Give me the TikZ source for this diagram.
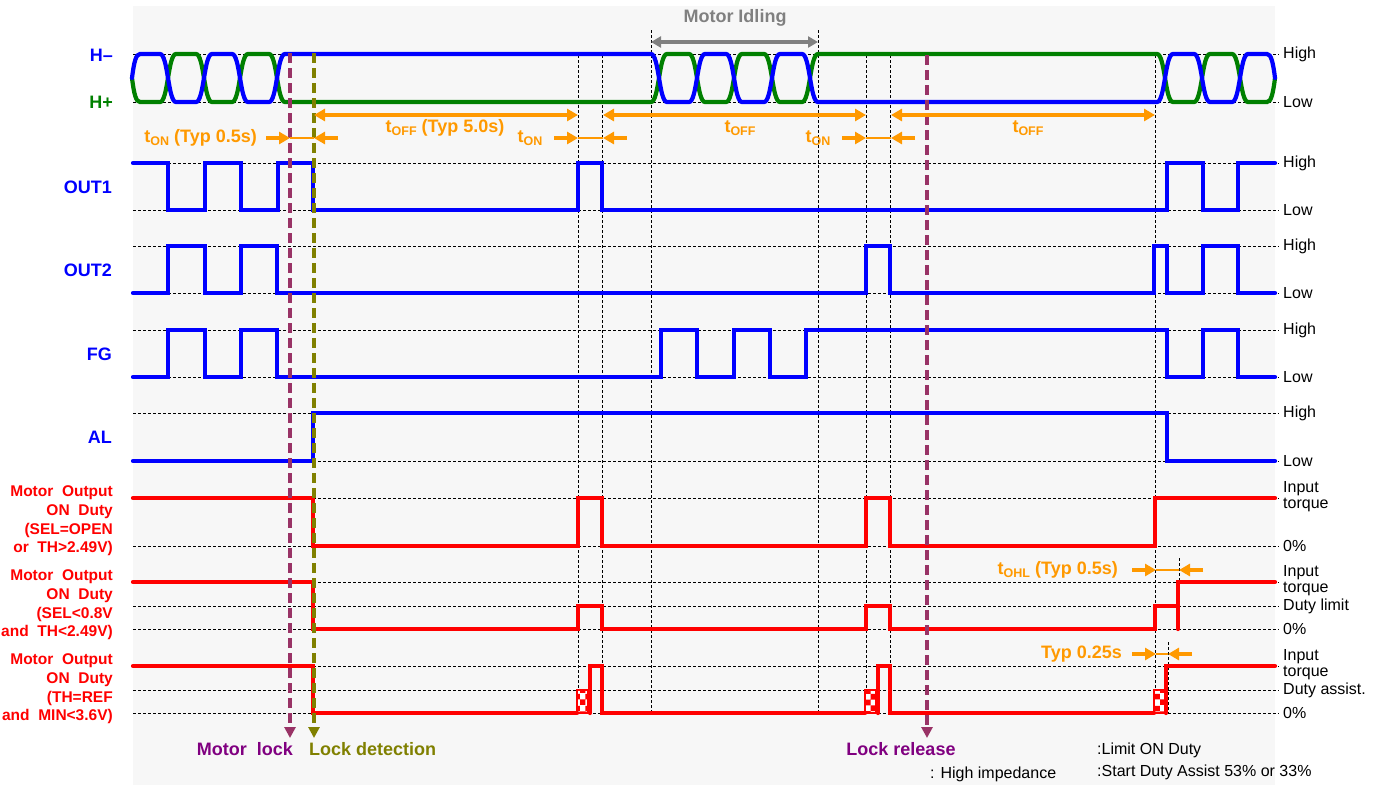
\documentclass[tikz,border=0pt]{standalone}
\usepackage{fontspec}
\setmainfont{Liberation Sans}
\usepackage{tikz}
\usetikzlibrary{arrows.meta,patterns}
\definecolor{sigblue}{HTML}{0000FF}
\definecolor{siggreen}{HTML}{008000}
\definecolor{sigred}{HTML}{FF0000}
\definecolor{tmorange}{HTML}{FF9900}
\definecolor{lockline}{HTML}{993366}
\definecolor{locktext}{HTML}{800080}
\definecolor{detolive}{HTML}{808000}
\definecolor{idlegray}{HTML}{808080}
\definecolor{bggray}{HTML}{F7F7F7}
\newcommand{\tsb}[1]{t\raisebox{-0.35ex}{\fontsize{12.5}{12.5}\selectfont #1}}

\begin{document}
\begin{tikzpicture}[x=1pt, y=-1pt,
  refline/.style={black, line width=1pt, dash pattern=on 3pt off 2pt},
  wave/.style={line width=4.2pt, line cap=round},
  marker/.style={line width=3.5pt, dash pattern=on 10pt off 5pt, -{Triangle[length=11pt,width=11pt]}},
  span/.style={tmorange, line width=4.2pt, {Triangle[length=11pt,width=12pt]}-{Triangle[length=11pt,width=12pt]}},
  pinch/.style={tmorange, line width=4.2pt, -{Triangle[length=11pt,width=12pt]}},
  gapline/.style={tmorange, line width=1.6pt},
  signame/.style={font=\fontsize{18}{20}\selectfont\bfseries, anchor=east, inner sep=0pt},
  dutyname/.style={font=\fontsize{15.5}{18.7}\selectfont\bfseries, text=sigred, align=right, anchor=east, inner sep=0pt},
  level/.style={font=\fontsize{16}{16}\selectfont, anchor=west, align=left, inner sep=0pt},
  tlabel/.style={font=\fontsize{18}{20}\selectfont\bfseries, text=tmorange, inner sep=0pt},
  evlabel/.style={font=\fontsize{18}{20}\selectfont\bfseries, inner sep=0pt},
  note/.style={font=\fontsize{16}{16}\selectfont, anchor=west, inner sep=0pt},
  chk/.style={draw=sigred, line width=2.5pt, preaction={fill=white}, pattern=checkerboard, pattern color=sigred}
]
\useasboundingbox (0,0) rectangle (1378,785);
\fill[bggray] (133,6) rectangle (1275,785);

% reference levels
\foreach \y in {54,102,163,210,246,293,330,377,413,461,498,546,582,606,629,666,690,713}
  \draw[refline] (133,\y) -- (1279,\y);
\foreach \x/\t in {578/55,602/55,651/30,818/30,866/55,890/55,1155/55}
  \draw[refline] (\x,\t) -- (\x,714);
\draw[refline] (1179,558) -- (1179,630);
\draw[refline] (1168,642) -- (1168,714);

% hall signals
\draw[wave, siggreen] (132,78) .. controls (134,94) and (136,102) .. (140,102)
 -- (160,102) .. controls (168,102) and (168,54) .. (176,54)
 -- (196,54) .. controls (204,54) and (204,102) .. (212,102)
 -- (232,102) .. controls (240,102) and (240,54) .. (248,54)
 -- (269,54) .. controls (277,54) and (277,102) .. (285,102)
 -- (651,102) .. controls (659,102) and (659,54) .. (667,54)
 -- (689,54) .. controls (697,54) and (697,102) .. (705,102)
 -- (726,102) .. controls (734,102) and (734,54) .. (742,54)
 -- (764,54) .. controls (772,54) and (772,102) .. (780,102)
 -- (802,102) .. controls (810,102) and (810,54) .. (818,54)
 -- (1157,54) .. controls (1165,54) and (1165,102) .. (1173,102)
 -- (1194,102) .. controls (1202,102) and (1202,54) .. (1210,54)
 -- (1232,54) .. controls (1240,54) and (1240,102) .. (1248,102)
 -- (1267,102) .. controls (1271,102) and (1273,94) .. (1275,78);
\draw[wave, sigblue] (132,78) .. controls (134,62) and (136,54) .. (140,54)
 -- (160,54) .. controls (168,54) and (168,102) .. (176,102)
 -- (196,102) .. controls (204,102) and (204,54) .. (212,54)
 -- (232,54) .. controls (240,54) and (240,102) .. (248,102)
 -- (269,102) .. controls (277,102) and (277,54) .. (285,54)
 -- (651,54) .. controls (659,54) and (659,102) .. (667,102)
 -- (689,102) .. controls (697,102) and (697,54) .. (705,54)
 -- (726,54) .. controls (734,54) and (734,102) .. (742,102)
 -- (764,102) .. controls (772,102) and (772,54) .. (780,54)
 -- (802,54) .. controls (810,54) and (810,102) .. (818,102)
 -- (1157,102) .. controls (1165,102) and (1165,54) .. (1173,54)
 -- (1194,54) .. controls (1202,54) and (1202,102) .. (1210,102)
 -- (1232,102) .. controls (1240,102) and (1240,54) .. (1248,54)
 -- (1267,54) .. controls (1271,54) and (1273,62) .. (1275,78);

% logic outputs
\draw[wave, sigblue] (133,163) -- (168,163) -- (168,210) -- (205,210) -- (205,163) -- (241,163) -- (241,210)
 -- (278,210) -- (278,163) -- (313,163) -- (313,210) -- (578,210) -- (578,163) -- (602,163) -- (602,210)
 -- (1167,210) -- (1167,163) -- (1203,163) -- (1203,210) -- (1238,210) -- (1238,163) -- (1275,163);
\draw[wave, sigblue] (133,293) -- (168,293) -- (168,246) -- (205,246) -- (205,293) -- (241,293) -- (241,246)
 -- (277,246) -- (277,293) -- (866,293) -- (866,246) -- (890,246) -- (890,293) -- (1154,293) -- (1154,246)
 -- (1167,246) -- (1167,293) -- (1203,293) -- (1203,246) -- (1238,246) -- (1238,293) -- (1275,293);
\draw[wave, sigblue] (133,377) -- (168,377) -- (168,330) -- (205,330) -- (205,377) -- (241,377) -- (241,330)
 -- (277,330) -- (277,377) -- (661,377) -- (661,330) -- (697,330) -- (697,377) -- (734,377) -- (734,330)
 -- (770,330) -- (770,377) -- (806,377) -- (806,330) -- (1167,330) -- (1167,377) -- (1203,377) -- (1203,330)
 -- (1238,330) -- (1238,377) -- (1275,377);
\draw[wave, sigblue] (133,461) -- (313,461) -- (313,413) -- (1167,413) -- (1167,461) -- (1275,461);

% motor output duty
\draw[wave, sigred] (133,498) -- (313,498) -- (313,546) -- (578,546) -- (578,498) -- (602,498) -- (602,546)
 -- (866,546) -- (866,498) -- (890,498) -- (890,546) -- (1155,546) -- (1155,498) -- (1275,498);
\draw[wave, sigred] (133,582) -- (313,582) -- (313,629) -- (578,629) -- (578,606) -- (602,606) -- (602,629)
 -- (866,629) -- (866,606) -- (890,606) -- (890,629) -- (1155,629) -- (1155,606) -- (1178,606);
\draw[wave, sigred] (1178,629) -- (1178,582) -- (1275,582);
\draw[chk] (577,690) rectangle (588,713);
\draw[chk] (865,690) rectangle (876,713);
\draw[chk] (1154,690) rectangle (1165,713);
\draw[wave, sigred] (133,666) -- (313,666) -- (313,713) -- (577,713);
\draw[wave, sigred] (590,713) -- (590,666) -- (602,666) -- (602,713) -- (865,713);
\draw[wave, sigred] (878,713) -- (878,666) -- (890,666) -- (890,713) -- (1154,713);
\draw[wave, sigred] (1166,713) -- (1166,666) -- (1275,666);

% lock events
\coordinate (lock-top) at (290,53);   \coordinate (lock-end) at (290,738);
\coordinate (det-top) at (314,53);    \coordinate (det-end) at (314,738);
\coordinate (rel-top) at (927,55);    \coordinate (rel-end) at (927,738);
\draw[marker, lockline] (lock-top) -- (lock-end);
\draw[marker, detolive] (det-top) -- (det-end);
\draw[marker, lockline] (rel-top) -- (rel-end);
\node[evlabel, text=locktext, anchor=east] (mlock) at (293,749) {Motor\ \ lock};
\node[evlabel, text=detolive, anchor=west] (ldet) at (309,749) {Lock detection};
\node[evlabel, text=locktext] (lrel) at (901,749) {Lock release};

% motor idling
\coordinate (idle-a) at (651,42); \coordinate (idle-b) at (818,42);
\draw[idlegray, line width=3.5pt, {Triangle[length=10pt,width=11pt]}-{Triangle[length=10pt,width=11pt]}] (idle-a) -- (idle-b);
\node[evlabel, text=idlegray] (idle) at (735,18) {Motor Idling};

% timing spans
\draw[span] (314,115) -- (578,115);
\draw[span] (603,115) -- (866,115);
\draw[span] (891,115) -- (1155,115);
\node[tlabel] (toff1) at (445,128) {\tsb{OFF} (Typ 5.0s)};
\node[tlabel] (toff2) at (740,128) {\tsb{OFF}};
\node[tlabel] (toff3) at (1028,128) {\tsb{OFF}};
\foreach \a/\b/\y in {290/314/138, 578/603/138, 866/891/138, 1156/1179/570, 1156/1168/654} {
  \draw[gapline] (\a,\y) -- (\b,\y);
  \draw[pinch] (\a-24,\y) -- (\a,\y);
  \draw[pinch] (\b+24,\y) -- (\b,\y);
}
\node[tlabel, anchor=east] (ton1) at (257,138) {\tsb{ON} (Typ 0.5s)};
\node[tlabel] (ton2) at (530,138) {\tsb{ON}};
\node[tlabel] (ton3) at (818,138) {\tsb{ON}};
\node[tlabel, anchor=east] (tohl) at (1118,570) {\tsb{OHL} (Typ 0.5s)};
\node[tlabel, anchor=east] (tassist) at (1122,654) {Typ 0.25s};

% signal names
\node[signame, text=sigblue] (hm) at (113,55) {H--};
\node[signame, text=siggreen] (hp) at (113,102) {H+};
\node[signame, text=sigblue] (out1) at (112,187) {OUT1};
\node[signame, text=sigblue] (out2) at (112,270) {OUT2};
\node[signame, text=sigblue] (fg) at (112,354) {FG};
\node[signame, text=sigblue] (al) at (112,437) {AL};
\node[dutyname] (duty1) at (113,521) {Motor\ \ Output\\ON\ \ Duty\\(SEL=OPEN\\or\ \ TH>2.49V)};
\node[dutyname] (duty2) at (113,605) {Motor\ \ Output\\ON\ \ Duty\\(SEL<0.8V\\and\ \ TH<2.49V)};
\node[dutyname] (duty3) at (113,689) {Motor\ \ Output\\ON\ \ Duty\\(TH=REF\\and\ \ MIN<3.6V)};

% level names
\foreach \y/\t in {54/High,102/Low,163/High,210/Low,246/High,293/Low,330/High,377/Low,413/High,461/Low,
  546/0\%,606/Duty limit,629/0\%,690/Duty assist.,713/0\%}
  \node[level] (lv-\y) at (1283,\y) {\t};
\foreach \y in {497,581,665}
  \node[level] (in-\y) at (1283,\y) {Input\\torque};

% legend
\node[note] (hiz) at (930,774) {: High impedance};
\node[note] (lim) at (1097,750) {:Limit ON Duty};
\node[note] (sda) at (1097,772) {:Start Duty Assist 53\% or 33\%};
\end{tikzpicture}
\end{document}
